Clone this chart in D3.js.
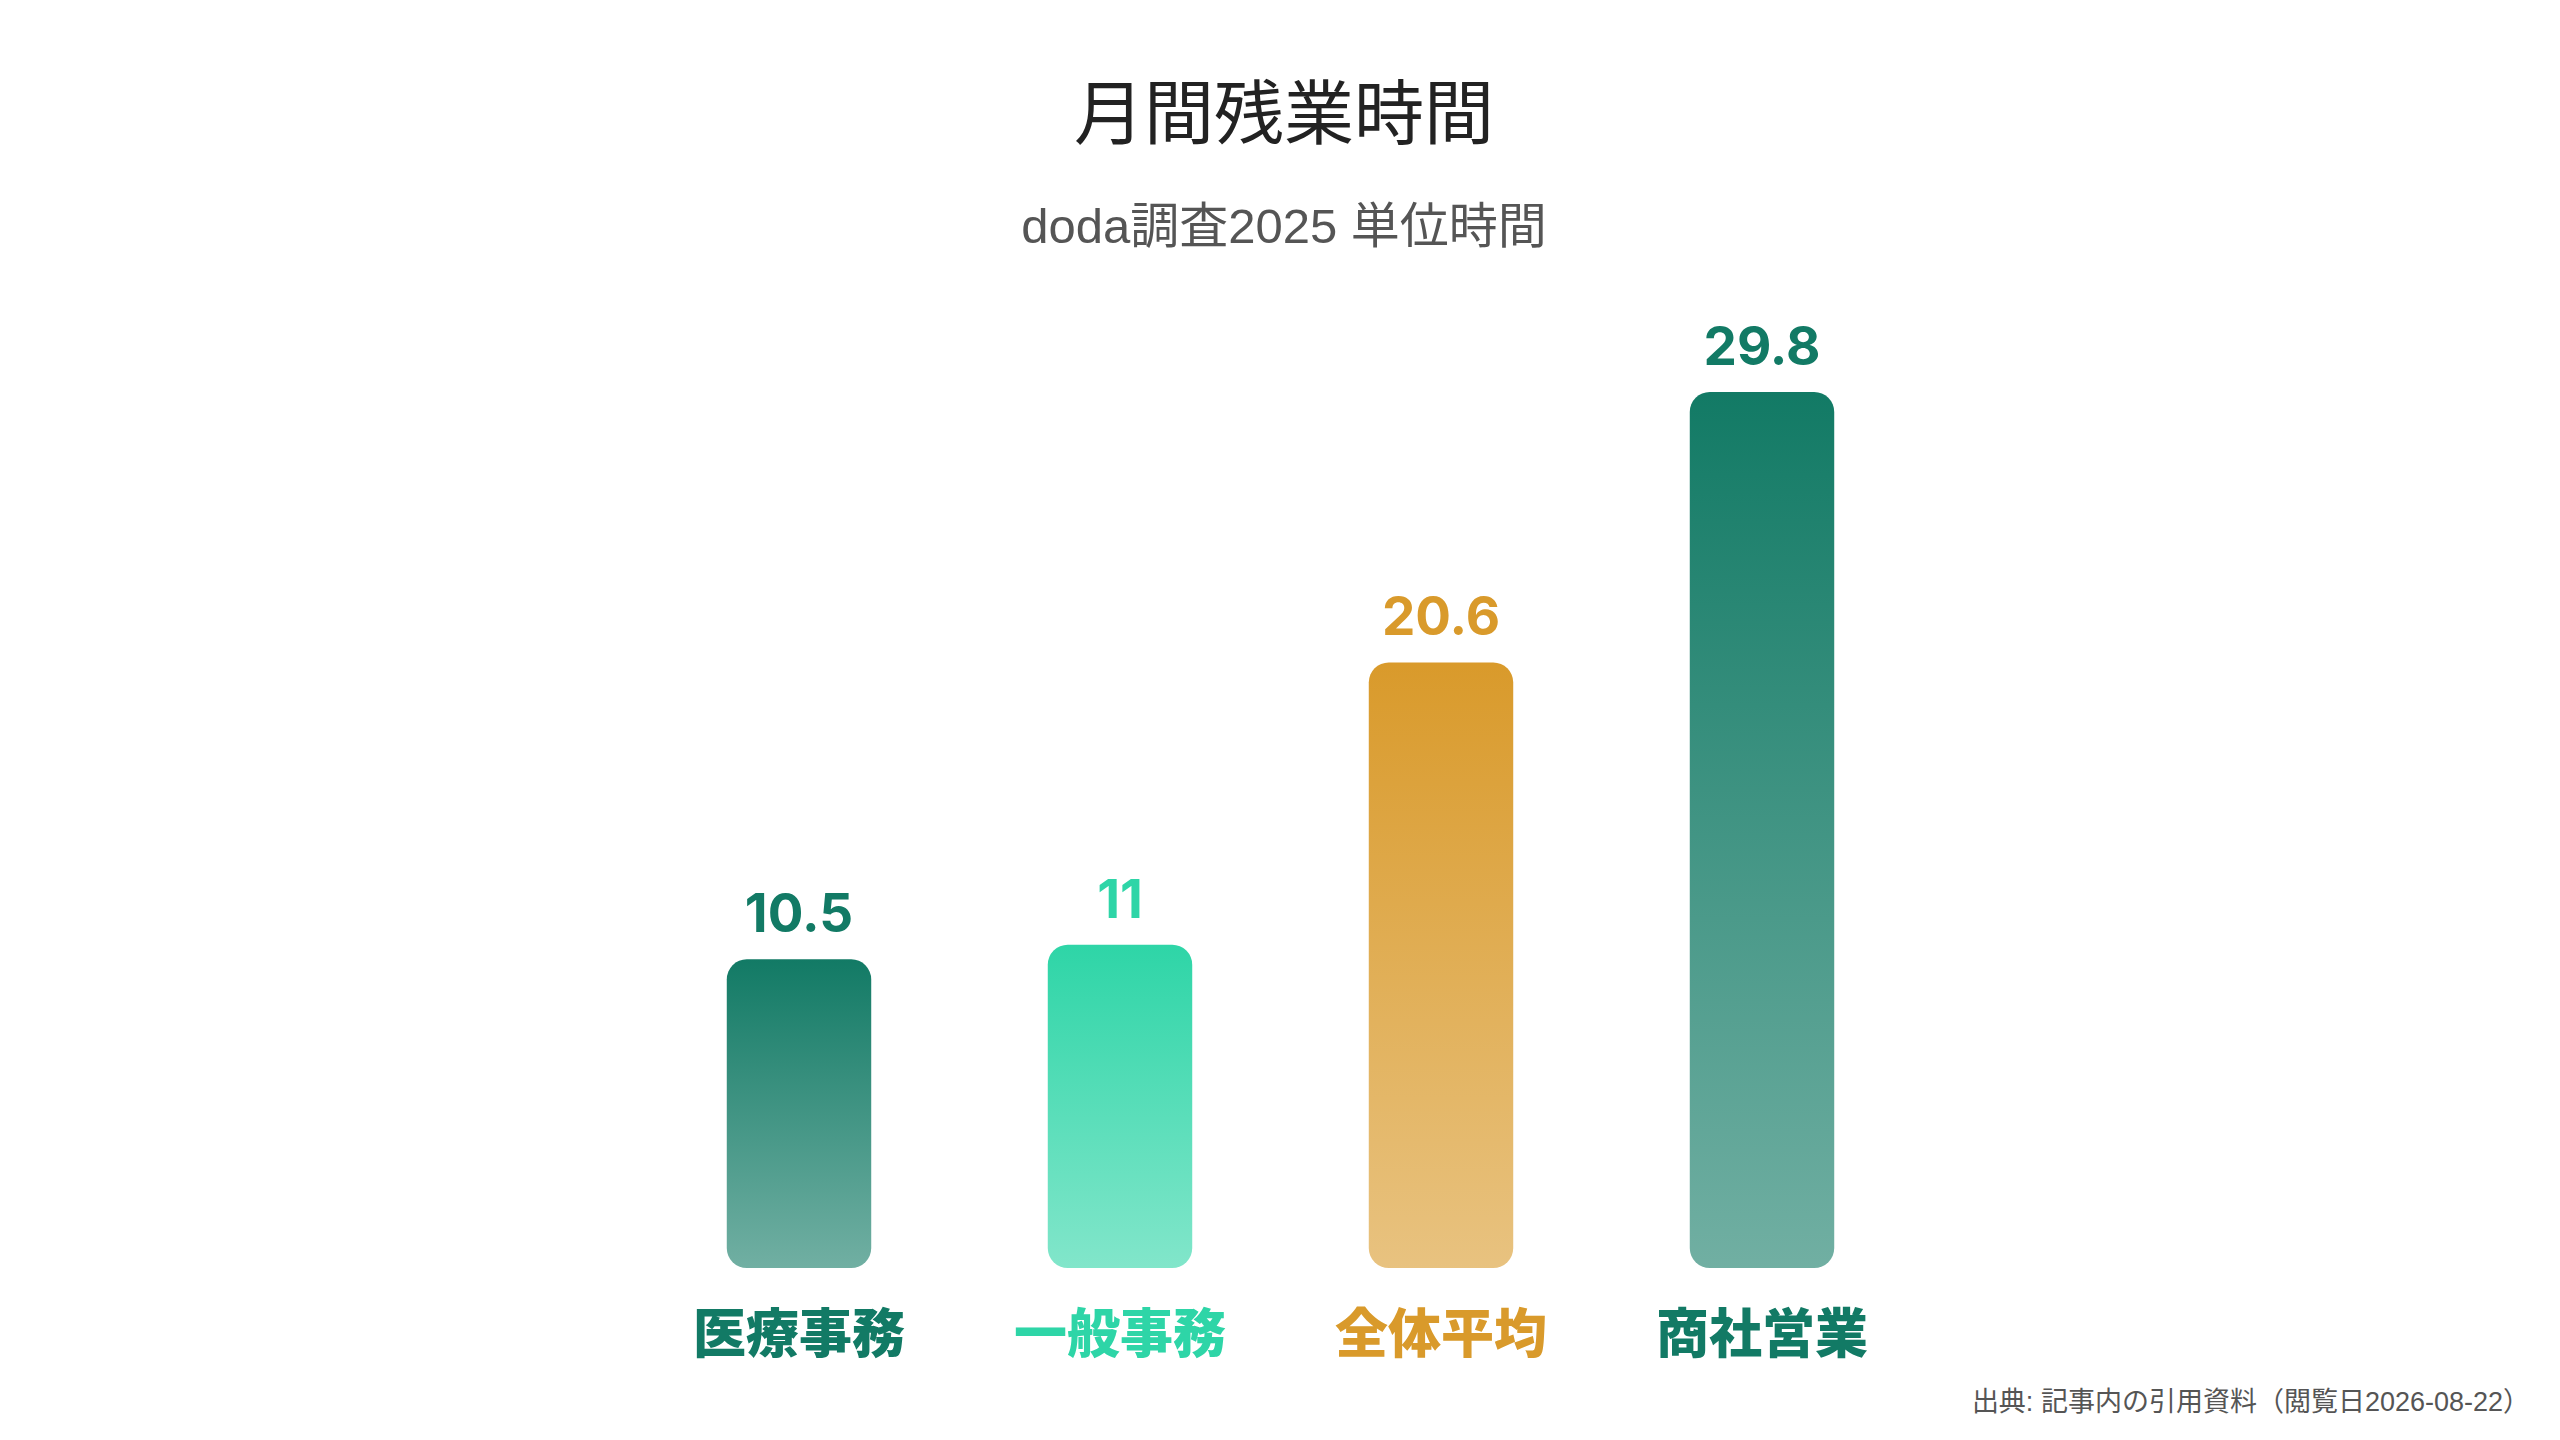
<!DOCTYPE html>
<html>
<head>
<meta charset="utf-8">
<script src="https://cdn.jsdelivr.net/npm/d3@7"></script>
<style>
  html, body { margin: 0; padding: 0; background: #fff; }
  #chart { width: 2560px; height: 1440px; }
</style>
</head>
<body>
<div id="chart"></div>
<script>
// data
const categories = ['医療事務', '一般事務', '全体平均', '商社営業']
const values = [10.5, 11, 20.6, 29.8]
const barColors = ['#127a65', '#2ed5a7', '#d99a2b', '#127a65']
const labelTexts = ['10.5', '11', '20.6', '29.8']

const title = '月間残業時間'
const subtitle = 'doda調査2025 単位時間'
const source = '出典: 記事内の引用資料（閲覧日2026-08-22）'

function draw() {
  const width = 2560
  const height = 1440

  const svg = d3.select('#chart')
    .append('svg')
      .attr('width', width)
      .attr('height', height)

  const defs = svg.append('defs')

  // one vertical fade per bar
  barColors.forEach((c, i) => {
    const g = defs.append('linearGradient')
      .attr('id', 'grad' + i)
      .attr('x1', 0).attr('y1', 0)
      .attr('x2', 0).attr('y2', 1)
    g.append('stop').attr('offset', '0%').attr('stop-color', c).attr('stop-opacity', 1)
    g.append('stop').attr('offset', '100%').attr('stop-color', c).attr('stop-opacity', 0.6)
  })

  const xscale = d3.scaleBand()
    .domain(categories)
    .range([638.5, 1922.5])
    .paddingInner(0.55)
    .paddingOuter(0.275)

  const yscale = d3.scaleLinear()
    .domain([0, 29.8])
    .range([1268, 392])

  const data = categories.map((c, i) => ({cat: c, value: values[i], color: barColors[i], label: labelTexts[i], i: i}))

  // titles
  svg.append('text')
    .attr('x', 1284)
    .attr('y', 139)
    .attr('text-anchor', 'middle')
    .style('font-family', '"Noto Sans CJK JP", "Noto Sans", sans-serif')
    .style('font-size', '70px')
    .style('fill', '#222')
    .text(title)

  svg.append('text')
    .attr('x', 1284)
    .attr('y', 243)
    .attr('text-anchor', 'middle')
    .style('font-family', '"Liberation Sans", "Noto Sans CJK JP", sans-serif')
    .style('font-size', '49px')
    .style('fill', '#555')
    .text(subtitle)

  // bars
  svg.append('g')
    .selectAll('rect')
    .data(data)
    .enter()
    .append('rect')
      .attr('x', d => xscale(d.cat))
      .attr('y', d => yscale(d.value))
      .attr('width', xscale.bandwidth())
      .attr('height', d => yscale(0) - yscale(d.value))
      .attr('rx', 20)
      .attr('ry', 20)
      .style('fill', d => `url(#grad${d.i})`)

  // value labels
  svg.append('g')
    .selectAll('text')
    .data(data)
    .enter()
    .append('text')
      .attr('x', d => xscale(d.cat) + xscale.bandwidth() / 2)
      .attr('y', d => yscale(d.value) - 27)
      .attr('text-anchor', 'middle')
      .style('font-family', 'Inter, Lato, sans-serif')
      .style('font-weight', 700)
      .style('font-size', '53px')
      .style('fill', d => d.color)
      .text(d => d.label)

  // category labels
  svg.append('g')
    .selectAll('text')
    .data(data)
    .enter()
    .append('text')
      .attr('x', d => xscale(d.cat) + xscale.bandwidth() / 2)
      .attr('y', 1353)
      .attr('text-anchor', 'middle')
      .style('font-family', '"Noto Sans CJK JP", sans-serif')
      .style('font-weight', 900)
      .style('font-size', '53px')
      .style('fill', d => d.color)
      .text(d => d.cat)

  // source note
  svg.append('text')
    .attr('x', 2530)
    .attr('y', 1411)
    .attr('text-anchor', 'end')
    .style('font-family', '"Liberation Sans", "Noto Sans CJK JP", sans-serif')
    .style('font-size', '27px')
    .style('fill', '#555')
    .text(source)
}

draw()
</script>
</body>
</html>
